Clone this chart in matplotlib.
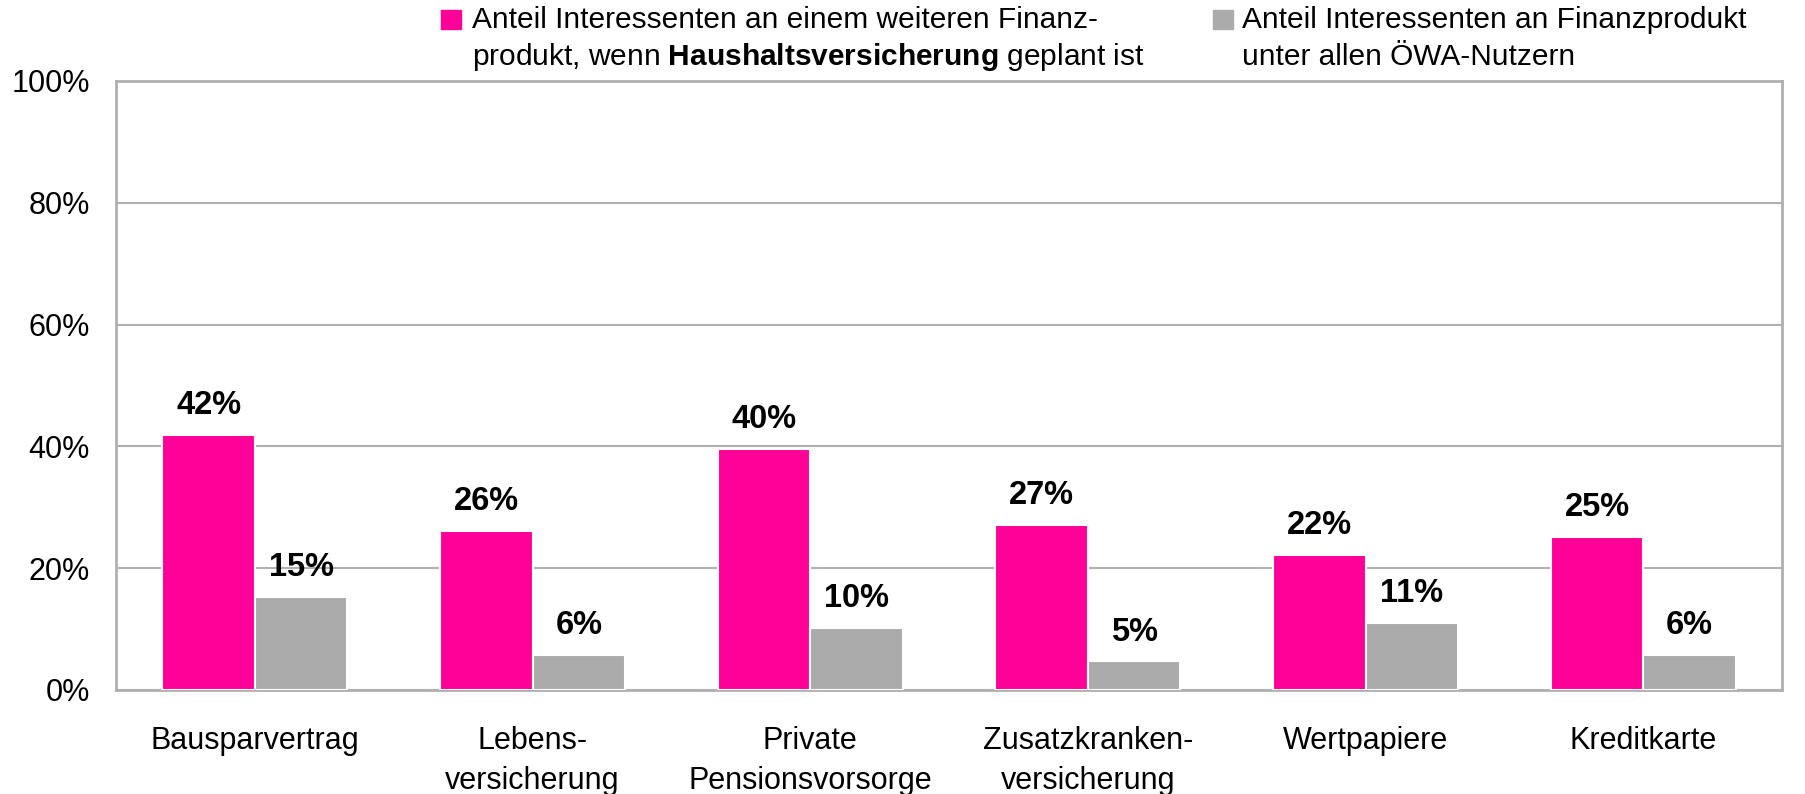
import matplotlib
matplotlib.use("Agg")
import matplotlib.pyplot as plt
import numpy as np
from matplotlib.patches import Rectangle

plt.rcParams['font.family'] = ['Liberation Sans', 'DejaVu Sans']
plt.rcParams['mathtext.fontset'] = 'custom'
plt.rcParams['mathtext.rm'] = 'Liberation Sans'
plt.rcParams['mathtext.bf'] = 'Liberation Sans:bold'

#%% data
categories = ['Bausparvertrag', 'Lebens-\nversicherung', 'Private\nPensionsvorsorge',
              'Zusatzkranken-\nversicherung', 'Wertpapiere', 'Kreditkarte']
interessenten_haushalt = [41.9, 26.1, 39.6, 27.1, 22.2, 25.2]
interessenten_alle = [15.3, 5.7, 10.2, 4.7, 11.0, 5.7]
yticks = [0, 20, 40, 60, 80, 100]
legend_1 = ['Anteil Interessenten an einem weiteren Finanz-',
            'produkt, wenn $\\mathbf{Haushaltsversicherung}$ geplant ist']
legend_2 = ['Anteil Interessenten an Finanzprodukt', 'unter allen ÖWA-Nutzern']

pink = '#FF0099'
grey = '#ABABAB'
axcol = '#B0B0B0'

#%% plot
fig = plt.figure(figsize=(18.05, 7.94), dpi=100)
ax = fig.add_axes([0.0643, 0.131, 0.923, 0.767])

x = np.arange(len(categories))
w = 0.333
b1 = ax.bar(x - w/2, interessenten_haushalt, w, color=pink, edgecolor='white', linewidth=1.5, zorder=3)
b2 = ax.bar(x + w/2, interessenten_alle, w, color=grey, edgecolor='white', linewidth=1.5, zorder=3)

for bars, vals in [(b1, interessenten_haushalt), (b2, interessenten_alle)]:
    for r, v in zip(bars, vals):
        ax.annotate('%.0f%%' % v, (r.get_x() + r.get_width()/2, v), xytext=(0, 15),
                    textcoords='offset points', ha='center', va='baseline',
                    fontsize=23.5, fontweight='bold', zorder=4)

ax.set_xlim(-0.5, len(categories) - 0.5)
ax.set_ylim(0, 100)
ax.set_yticks(yticks)
ax.set_yticklabels(['%d%%' % t for t in yticks], fontsize=22)
ax.set_xticks(x)
ax.set_xticklabels(categories, fontsize=22, linespacing=1.45)
ax.tick_params(axis='y', length=0, pad=19)
ax.tick_params(axis='x', length=0, pad=26)
ax.yaxis.grid(True, color=axcol, linewidth=1.5, zorder=0)
ax.set_axisbelow(True)
for s in ax.spines.values():
    s.set_color(axcol)
    s.set_linewidth(2)

#%% legend drawn by hand (square sits on the first line)
H = 794.0
W = 1805.0
for sx, tx, col, lines in [(441, 472, pink, legend_1), (1213, 1242, grey, legend_2)]:
    fig.patches.append(Rectangle((sx/W, 1 - 29/H), 20/W, 19/H, color=col, transform=fig.transFigure))
    for base, line in zip([28, 65], lines):
        fig.text(tx/W, 1 - base/H, line, fontsize=21.5, va='baseline', ha='left')

plt.savefig('out.png', dpi=100)
